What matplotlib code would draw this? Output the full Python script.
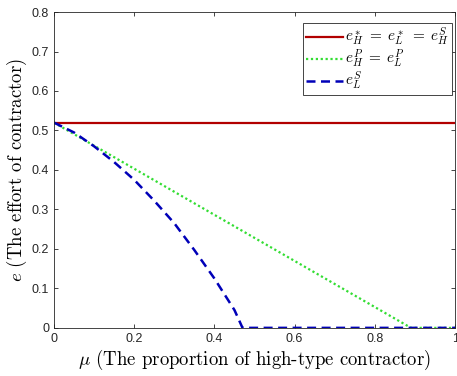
import matplotlib
matplotlib.use("Agg")
import matplotlib.pyplot as plt

# Effort levels against the share of high-type contractors
mu_full = [0.0, 1.0]
e_first_best = [0.52, 0.52]

mu_pool = [0.0, 0.89, 1.0]
e_pool = [0.52, 0.0, 0.0]

mu_sep = [0.0, 0.05, 0.10, 0.15, 0.20, 0.25, 0.30, 0.35, 0.40, 0.45, 0.47, 1.0]
e_sep = [0.52, 0.495, 0.46, 0.42, 0.375, 0.322, 0.265, 0.197, 0.125, 0.045, 0.0, 0.0]

x_ticks = [0, 0.2, 0.4, 0.6, 0.8, 1]
x_tick_labels = ["0", "0.2", "0.4", "0.6", "0.8", "1"]
y_ticks = [0, 0.1, 0.2, 0.3, 0.4, 0.5, 0.6, 0.7, 0.8]
y_tick_labels = ["0", "0.1", "0.2", "0.3", "0.4", "0.5", "0.6", "0.7", "0.8"]

plt.rcParams["mathtext.fontset"] = "cm"
plt.rcParams["font.family"] = ["Liberation Sans", "DejaVu Sans"]

fig = plt.figure(figsize=(4.57, 3.76), dpi=100)
ax = fig.add_axes([0.118, 0.128, 0.878, 0.840])

ax.plot(mu_full, e_first_best, color="#b20000", lw=1.6,
        label=r"$e_H^*\;=\;e_L^*\;=\;e_H^S$")
ax.plot(mu_pool, e_pool, color="#33dd33", lw=1.6, ls=(0, (1, 1.2)),
        label=r"$e_H^P\;=\;e_L^P$")
ax.plot(mu_sep, e_sep, color="#0000b8", lw=1.8, ls=(0, (3.6, 2.2)),
        label=r"$e_L^S$")

ax.set_xlim(0, 1)
ax.set_ylim(0, 0.8)
ax.set_xticks(x_ticks)
ax.set_xticklabels(x_tick_labels)
ax.set_yticks(y_ticks)
ax.set_yticklabels(y_tick_labels)
ax.tick_params(direction="in", top=True, right=True, labelsize=9,
               colors="#262626", length=3, width=0.6)
for s in ax.spines.values():
    s.set_color("#262626")
    s.set_linewidth(0.6)

ax.set_xlabel(r"$\mu$ (The proportion of high-type contractor)",
              fontsize=13.5, family="cmr10", labelpad=2)
ax.set_ylabel(r"$e$ (The effort of contractor)",
              fontsize=13.5, family="cmr10", labelpad=2)

leg = ax.legend(loc="upper right", bbox_to_anchor=(0.9925, 0.965),
                borderaxespad=0, fontsize=11, handlelength=2.4,
                handletextpad=0.15, labelspacing=0.0, borderpad=0.2,
                fancybox=False, framealpha=1)
leg.get_frame().set_edgecolor("#262626")
leg.get_frame().set_linewidth(0.6)

fig.savefig("out.png", dpi=100)
